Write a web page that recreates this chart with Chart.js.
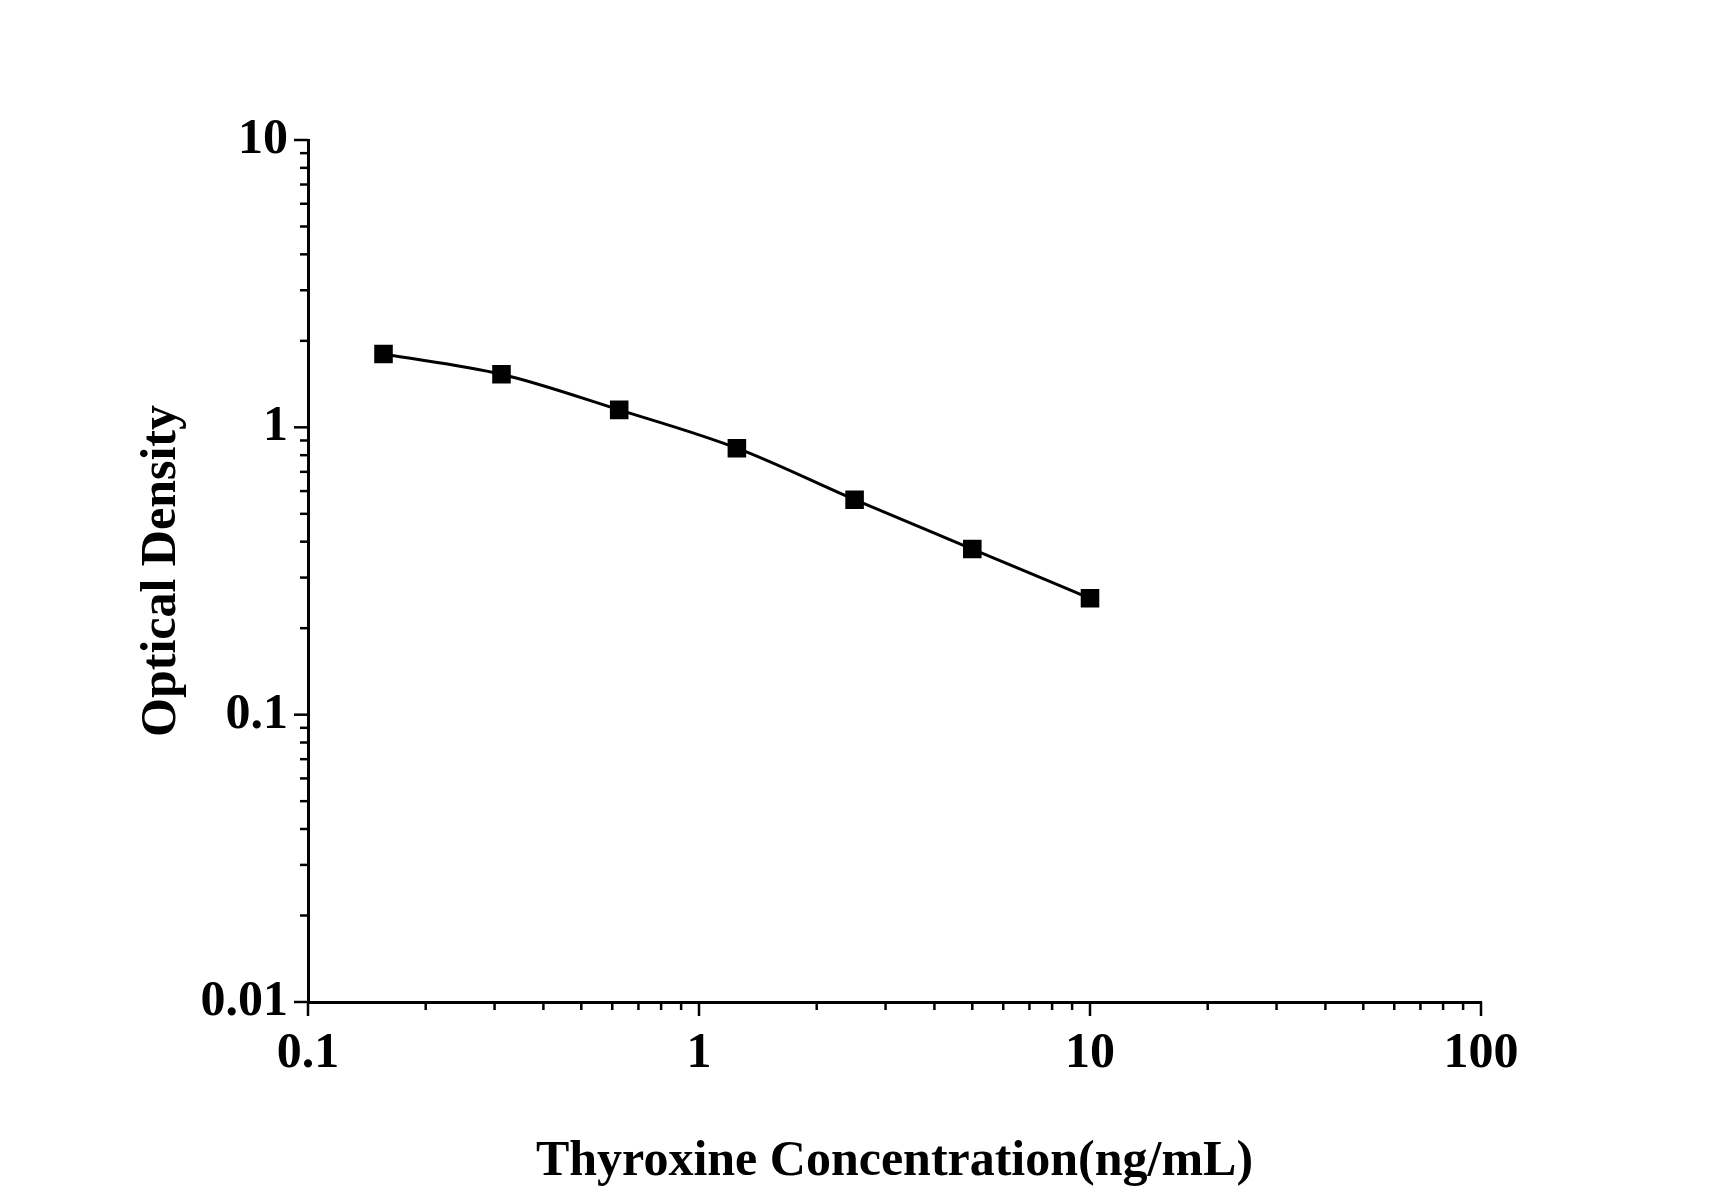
<!DOCTYPE html>
<html>
<head>
<meta charset="utf-8">
<script src="https://cdn.jsdelivr.net/npm/chart.js@4"></script>
<style>
body{margin:0;background:#fff;}
#c{display:block;}
</style>
</head>
<body>
<canvas id="c" width="1712" height="1196"></canvas>
<script>
const concentrations = [0.156, 0.3125, 0.625, 1.25, 2.5, 5, 10];
const densities = [1.80, 1.53, 1.15, 0.846, 0.56, 0.377, 0.254];
const xDecades = [0.1, 1, 10, 100];
const yDecades = [0.01, 0.1, 1, 10];

const FONT = "'Liberation Serif', 'Times New Roman', serif";

function allTicks(decades){
const out = [];
for(let i=0;i<decades.length;i++){
const d = decades[i];
if(i===decades.length-1){ out.push(d); break; }
for(let k=1;k<10;k++) out.push(+(d*k).toPrecision(3));
}
return out;
}

// draws major/minor tick marks outward from the axes
const tickMarks = {
id:"tickMarks",
afterDraw(chart){
const ctx = chart.ctx;
const x = chart.scales.x, y = chart.scales.y;
const a = chart.chartArea;
ctx.save();
ctx.strokeStyle = "#000";
ctx.lineWidth = 2.5;
allTicks(xDecades).forEach(v=>{
const px = x.getPixelForValue(v);
const len = xDecades.includes(v) ? 14 : 8;
ctx.beginPath(); ctx.moveTo(px, a.bottom); ctx.lineTo(px, a.bottom+len); ctx.stroke();
});
allTicks(yDecades).forEach(v=>{
const py = y.getPixelForValue(v);
const len = yDecades.includes(v) ? 14 : 8;
ctx.beginPath(); ctx.moveTo(a.left, py); ctx.lineTo(a.left-len, py); ctx.stroke();
});
ctx.restore();
}
};

new Chart(document.getElementById("c"),{
type:"line",
data:{
datasets:[{
data:concentrations.map((c,i)=>({x:c,y:densities[i]})),
borderColor:"#000",
backgroundColor:"#000",
borderWidth:3,
pointStyle:"rect",
pointRadius:11,
pointHoverRadius:11,
cubicInterpolationMode:"monotone"
}]
},
options:{
responsive:false,
animation:false,
layout:{padding:{top:140,right:231,left:128,bottom:0}},
plugins:{legend:{display:false},tooltip:{enabled:false}},
scales:{
x:{
type:"logarithmic",
min:0.1,max:100,
afterBuildTicks(s){ s.ticks = xDecades.map(v=>({value:v})); },
afterFit(s){ s.height = 194; },
grid:{drawOnChartArea:false,drawTicks:false},
border:{color:"#000",width:3},
ticks:{color:"#000",padding:22,font:{family:FONT,size:50,weight:"bold"},
callback:v=>String(v)},
title:{display:true,text:"Thyroxine Concentration(ng/mL)",color:"#000",
font:{family:FONT,size:50,weight:"bold"},padding:{top:0}}
},
y:{
type:"logarithmic",
min:0.01,max:10,
afterBuildTicks(s){ s.ticks = yDecades.map(v=>({value:v})); },
afterFit(s){ s.width = 180; },
grid:{drawOnChartArea:false,drawTicks:false},
border:{color:"#000",width:3},
ticks:{color:"#000",padding:20,font:{family:FONT,size:50,weight:"bold"},
callback:v=>String(v)},
title:{display:true,text:"Optical Density",color:"#000",
font:{family:FONT,size:50,weight:"bold"},padding:{bottom:0}}
}
}
},
plugins:[tickMarks]
});
</script>
</body>
</html>
